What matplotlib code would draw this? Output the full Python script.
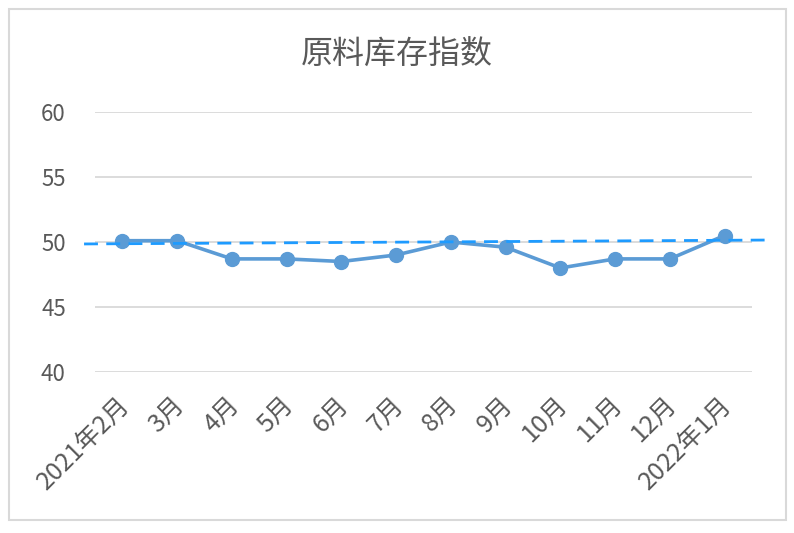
import matplotlib
matplotlib.use("Agg")
import matplotlib.pyplot as plt
from matplotlib.patches import Rectangle
from matplotlib.transforms import ScaledTranslation

plt.rcParams['font.family'] = ['Noto Sans CJK SC', 'DejaVu Sans']

categories = ["2021年2月", "3月", "4月", "5月", "6月", "7月", "8月", "9月",
              "10月", "11月", "12月", "2022年1月"]
values = [50.1, 50.1, 48.7, 48.7, 48.5, 49.0, 50.0, 49.6, 48.0, 48.7, 48.7, 50.5]
trend_x = [-0.7, 11.75]
trend_y = [49.85, 50.15]
yticks = [40, 45, 50, 55, 60]
title = "原料库存指数"

fig = plt.figure(figsize=(7.94, 5.33), dpi=100)
fig.patches.append(Rectangle((9/794, 1-520/533), 777/794, 511/533, transform=fig.transFigure,
                             fill=False, edgecolor='#D9D9D9', linewidth=1.5))
ax = fig.add_axes([95/794, 1-372/533, (752-95)/794, (372-112)/533])

x = list(range(len(categories)))
ax.set_xlim(-0.5, len(categories) - 0.5)
ax.set_ylim(40, 60)
ax.set_yticks(yticks)
ax.grid(axis='y', color='#D9D9D9', linewidth=1.3)
ax.set_axisbelow(True)
for s in ax.spines.values():
    s.set_visible(False)

ax.plot(x, values, color='#5B9BD5', linewidth=2.6, marker='o', markersize=10,
        markerfacecolor='#5B9BD5', markeredgecolor='#5B9BD5', zorder=3, clip_on=False)
ax.plot(trend_x, trend_y, color='#1E9BFF', linewidth=2.0, linestyle=(0, (5, 3)),
        zorder=4, clip_on=False)

ax.set_xticks(x)
ax.set_xticklabels(categories, rotation=45, ha='right', rotation_mode='anchor',
                   fontsize=18, color='#595959')
ax.tick_params(axis='x', length=0, pad=14)
offset = ScaledTranslation(-6/100, 0, fig.dpi_scale_trans)
for lbl in ax.get_xticklabels():
    lbl.set_transform(lbl.get_transform() + offset)
ax.tick_params(axis='y', length=0, pad=21, labelsize=16, labelcolor='#595959')

fig.text(397/794, 1-55/533, title, ha='center', va='center', fontsize=23, color='#595959')

fig.savefig("out.png", dpi=100)
